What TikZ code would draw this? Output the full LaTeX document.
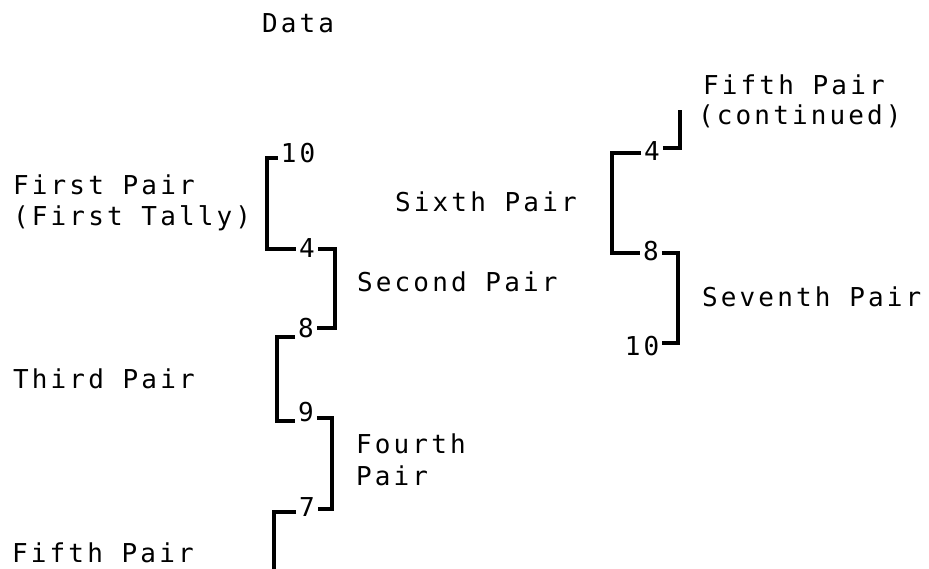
\documentclass[tikz,border=0pt]{standalone}
\usepackage{fontspec}
\newfontfamily\monofam[LetterSpace=12]{DejaVu Sans Mono}
\begin{document}
\begin{tikzpicture}[x=1pt,y=-1pt,
  lbl/.style={anchor=base west,inner sep=0pt,font=\monofam\fontsize{26}{31}\selectfont},
  num/.style={anchor=center,inner sep=0pt,outer sep=3pt,font=\monofam\fontsize{26}{31}\selectfont},
  br/.style={line width=3.2pt,line join=miter,line cap=butt}]
\useasboundingbox (0,0) rectangle (929,569);
% texts
\node[lbl] (data) at (262,33) {Data};
\node[lbl] (p1a) at (13,195) {First Pair};
\node[lbl] (p1b) at (13,226) {(First Tally)};
\node[lbl] (p2) at (357,292) {Second Pair};
\node[lbl] (p3) at (13,388) {Third Pair};
\node[lbl] (p4a) at (356,453) {Fourth};
\node[lbl] (p4b) at (356,485) {Pair};
\node[lbl] (p5) at (12,562) {Fifth Pair};
\node[lbl] (p6) at (395,212) {Sixth Pair};
\node[lbl] (p5ca) at (703,95) {Fifth Pair};
\node[lbl] (p5cb) at (698,125) {(continued)};
\node[lbl] (p7) at (702,307) {Seventh Pair};
% numbers
\node[num] (a10) at (298,153) {10};
\node[num] (a4) at (307,248) {4};
\node[num] (a8) at (306,328) {8};
\node[num] (a9) at (306,412) {9};
\node[num] (a7) at (307,507) {7};
\node[num] (b4) at (652,151) {4};
\node[num] (b8) at (651,251) {8};
\node[num] (b10) at (642,346) {10};
\coordinate (c5end) at (274,575);
\coordinate (c5top) at (680,110);
% brackets
\draw[br] ([yshift=-5pt]a10.west) -| (267,249) -- ([yshift=-1pt]a4.west);
\draw[br] ([yshift=-1pt]a4.east) -| (335,328) -- (a8.east);
\draw[br] ([yshift=-9pt]a8.west) -| (277,421) -- ([yshift=-9pt]a9.west);
\draw[br] ([yshift=-6pt]a9.east) -| (332,509) -- ([yshift=-2pt]a7.east);
\draw[br] ([yshift=-5pt]a7.west) -| (c5end);
\draw[br] ([yshift=-2pt]b4.west) -| (612,253) -- ([yshift=-2pt]b8.west);
\draw[br] ([yshift=3pt]b4.east) -| (c5top);
\draw[br] ([yshift=-2pt]b8.east) -| (678,343) -- ([yshift=3pt]b10.east);
\end{tikzpicture}
\end{document}
